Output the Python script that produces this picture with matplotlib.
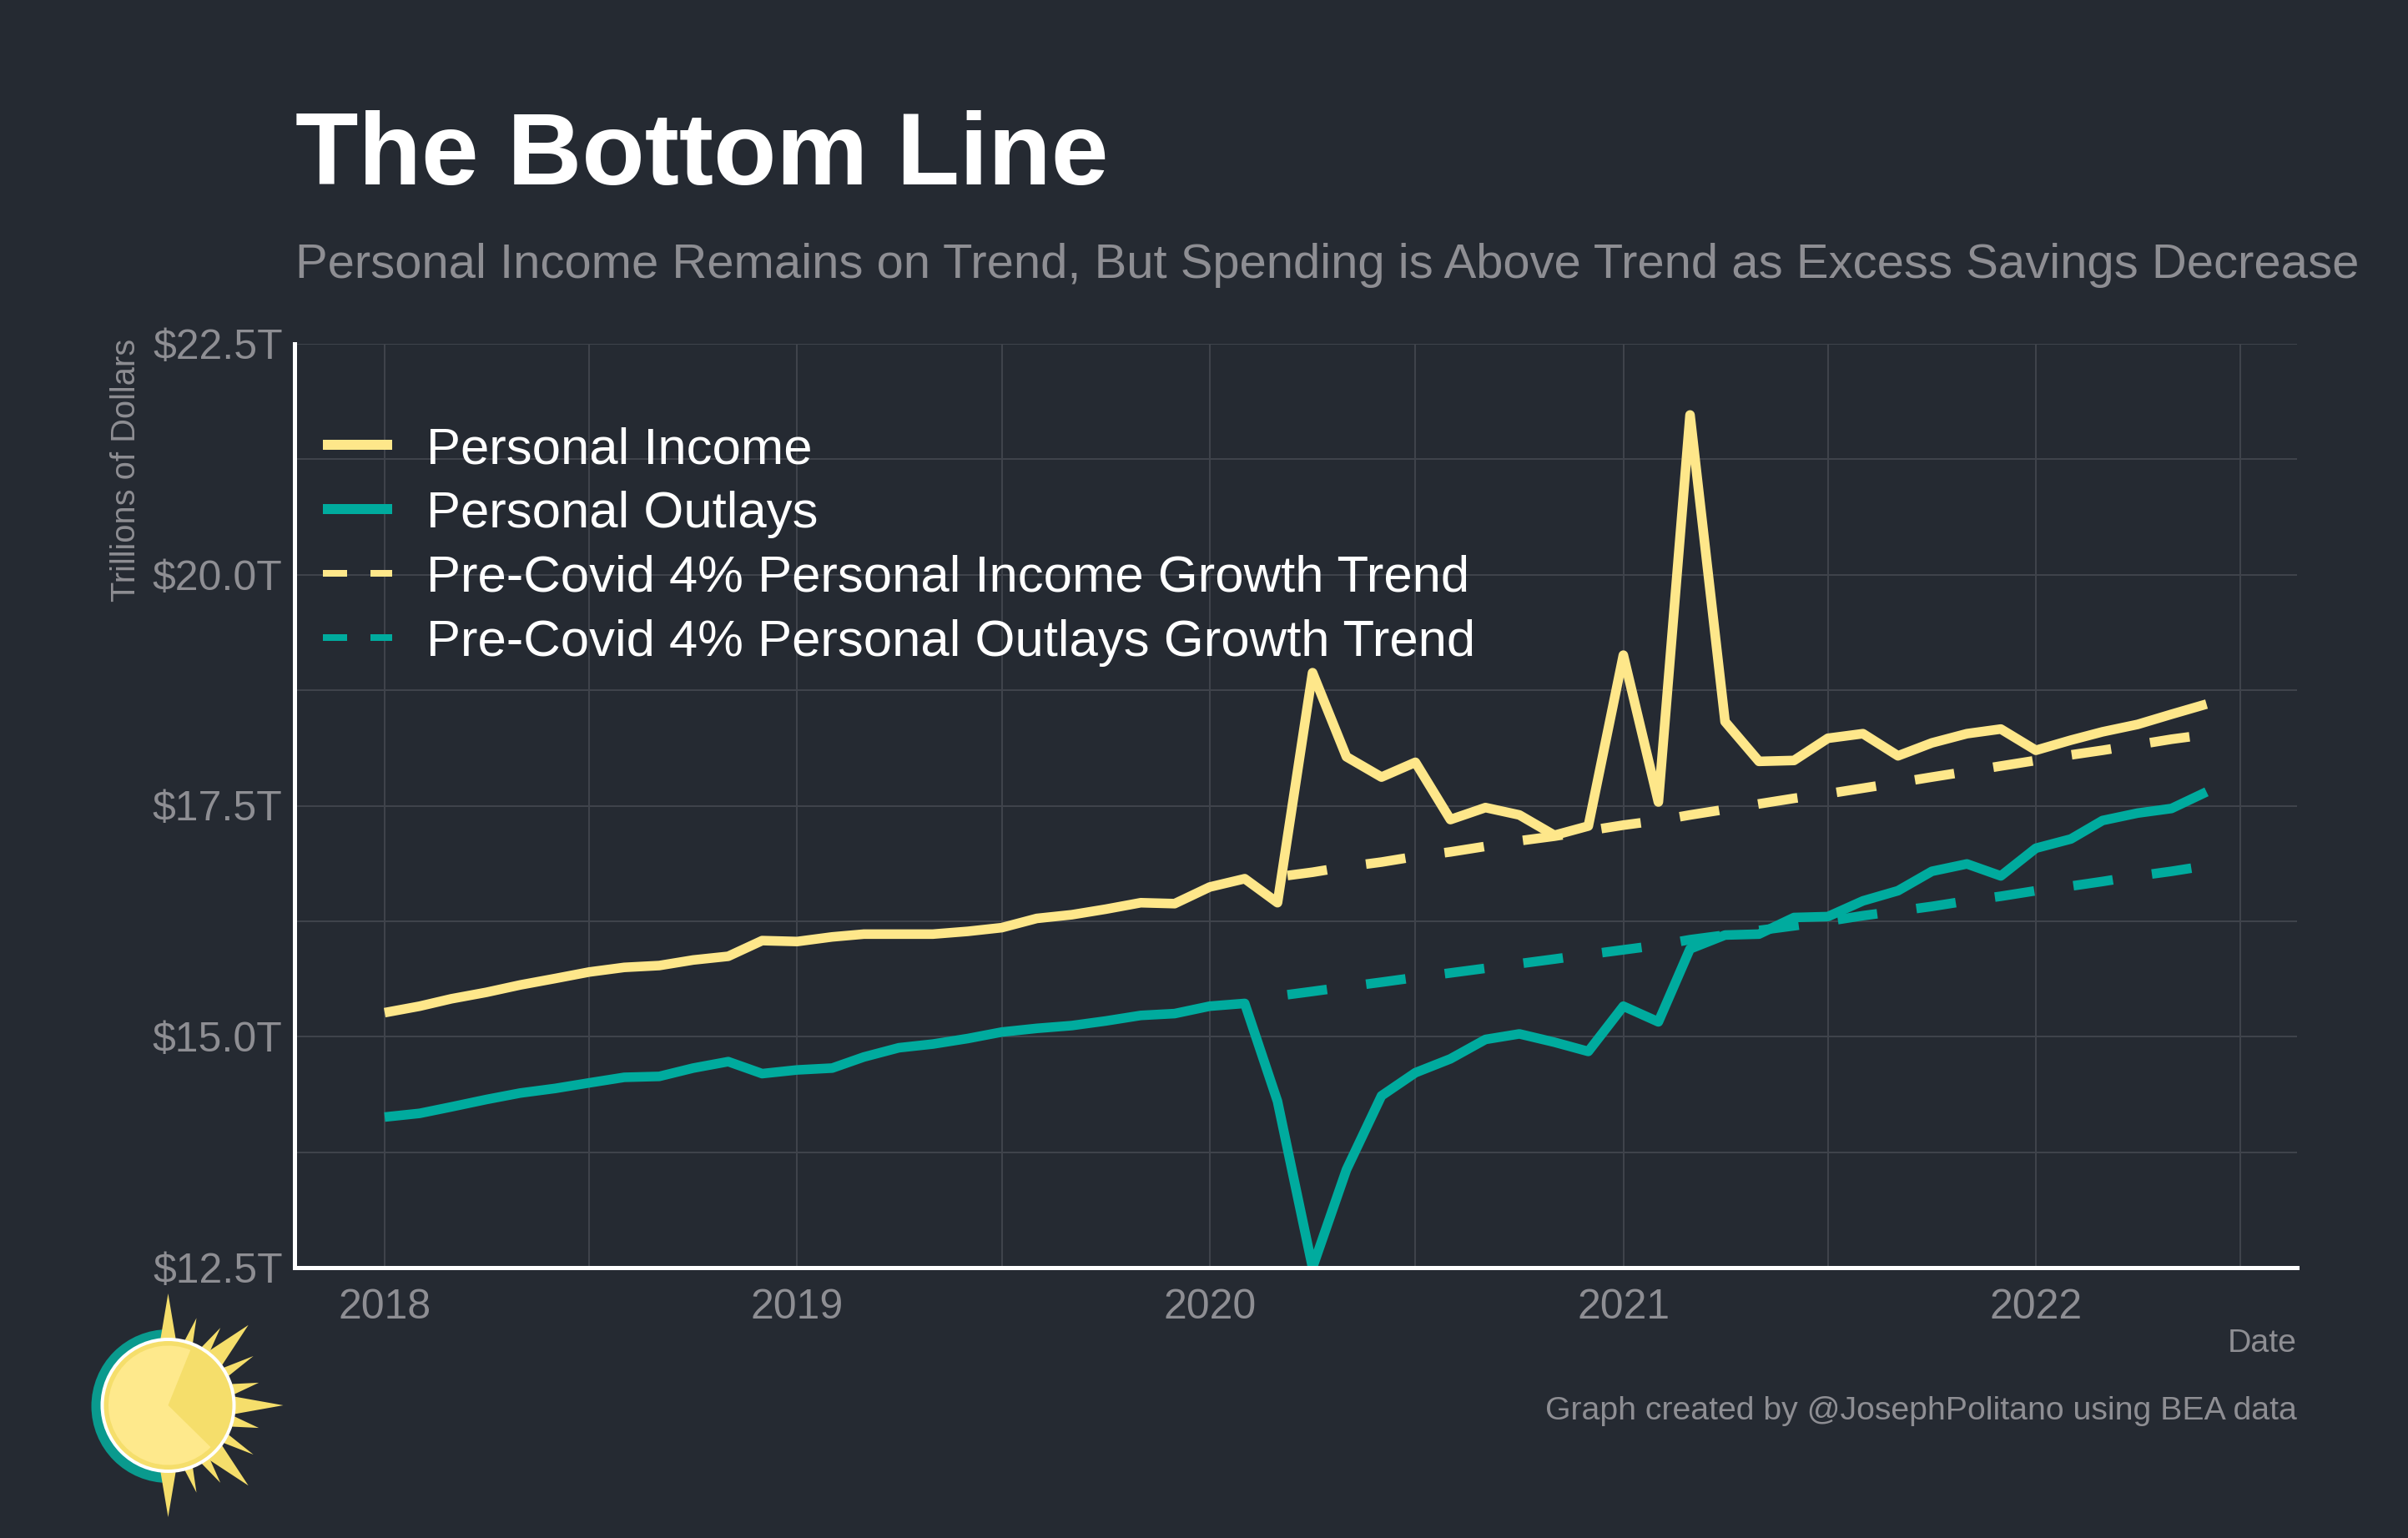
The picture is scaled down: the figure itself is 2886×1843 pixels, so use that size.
import numpy as np
import pandas as pd
import matplotlib
matplotlib.use("Agg")
import matplotlib.pyplot as plt
import matplotlib.dates as mdates
from matplotlib.lines import Line2D
from matplotlib.patches import Circle, Wedge, Polygon

plt.rcParams['font.family'] = ['Liberation Sans', 'DejaVu Sans']
plt.rcParams['lines.scale_dashes'] = False

W, H, DPI = 2886, 1843, 100
PT = 72 / DPI

BG = '#252A32'
YELLOW = '#FEE78A'
TEAL = '#00AB9E'
GRID = '#3F434B'
GREY = '#8E8E93'

income = [15.26, 15.33, 15.41, 15.48, 15.56, 15.63, 15.70, 15.75, 15.77, 15.83, 15.87, 16.04,
          16.03, 16.08, 16.11, 16.11, 16.11, 16.14, 16.18, 16.28, 16.32, 16.38, 16.45, 16.44,
          16.62, 16.71, 16.45, 18.94, 18.03, 17.81, 17.97, 17.35, 17.48, 17.40, 17.18, 17.28,
          19.13, 17.54, 21.73, 18.41, 17.98, 17.99, 18.23, 18.28, 18.04, 18.18, 18.28, 18.33,
          18.10, 18.21, 18.30, 18.38, 18.49, 18.60]
outlays = [14.13, 14.17, 14.24, 14.32, 14.39, 14.44, 14.50, 14.56, 14.57, 14.66, 14.73, 14.60,
           14.64, 14.66, 14.78, 14.88, 14.92, 14.98, 15.05, 15.09, 15.12, 15.17, 15.23, 15.25,
           15.33, 15.36, 14.30, 12.50, 13.56, 14.36, 14.61, 14.76, 14.97, 15.03, 14.94, 14.84,
           15.33, 15.16, 15.95, 16.10, 16.11, 16.29, 16.30, 16.47, 16.58, 16.79, 16.87, 16.74,
           17.04, 17.14, 17.34, 17.42, 17.47, 17.65]
income_trend = [16.73, 16.78, 16.84, 16.89, 16.95, 17.00, 17.06, 17.12, 17.17, 17.23, 17.29, 17.34,
                17.40, 17.46, 17.52, 17.58, 17.63, 17.69, 17.75, 17.81, 17.87, 17.93, 17.99, 18.05,
                18.10, 18.16, 18.22, 18.27]
outlays_trend = [15.44, 15.49, 15.54, 15.59, 15.64, 15.69, 15.74, 15.79, 15.84, 15.89, 15.94, 15.99,
                 16.05, 16.10, 16.15, 16.20, 16.25, 16.31, 16.36, 16.41, 16.47, 16.52, 16.58, 16.63,
                 16.68, 16.74, 16.79, 16.85]
y_ticks = [12.5, 15.0, 17.5, 20.0, 22.5]
y_tick_labels = ['$12.5T', '$15.0T', '$17.5T', '$20.0T', '$22.5T']
legend_labels = ['Personal Income', 'Personal Outlays',
                 'Pre-Covid 4% Personal Income Growth Trend',
                 'Pre-Covid 4% Personal Outlays Growth Trend']

dates = pd.date_range('2018-01-01', periods=len(income), freq='MS')
trend_dates = pd.date_range('2020-03-01', periods=len(income_trend), freq='MS')

fig = plt.figure(figsize=(W / DPI, H / DPI), dpi=DPI, facecolor=BG)
L, R, T, B = 352.5, 2753, 412, 1519
ax = fig.add_axes([L / W, 1 - B / H, (R - L) / W, (B - T) / H], facecolor=BG)

px_per_day = (2440 - 461) / (mdates.date2num(pd.Timestamp('2022-01-01')) - mdates.date2num(pd.Timestamp('2018-01-01')))
d0 = mdates.date2num(pd.Timestamp('2018-01-01'))
ax.set_xlim(d0 - (461 - L) / px_per_day, d0 + (R - 461) / px_per_day)
ax.set_ylim(12.5, 22.5)

ax.xaxis.set_major_locator(mdates.YearLocator())
ax.xaxis.set_major_formatter(mdates.DateFormatter('%Y'))
ax.xaxis.set_minor_locator(mdates.MonthLocator(bymonth=[7]))
ax.set_yticks(y_ticks)
ax.set_yticklabels(y_tick_labels)
ax.set_yticks([13.75, 16.25, 18.75, 21.25], minor=True)
ax.grid(True, which='both', color=GRID, lw=2 * PT)
ax.set_axisbelow(True)
ax.tick_params(which='both', length=0)
ax.tick_params(axis='x', which='major', labelsize=36, labelcolor=GREY, pad=18)
ax.tick_params(axis='y', which='major', labelsize=36, labelcolor=GREY, pad=10)

for s in ['top', 'right']:
    ax.spines[s].set_visible(False)
for s in ['left', 'bottom']:
    ax.spines[s].set_color('white')
    ax.spines[s].set_linewidth(5 * PT)

lw = 11.5 * PT
dash = (59.8, (47.8 * PT, 47.3 * PT))
ax.plot(trend_dates, income_trend, color=YELLOW, lw=lw, linestyle=dash, dash_capstyle='butt')
ax.plot(trend_dates, outlays_trend, color=TEAL, lw=lw, linestyle=dash, dash_capstyle='butt')
ax.plot(dates, income, color=YELLOW, lw=lw, solid_capstyle='butt', solid_joinstyle='round')
ax.plot(dates, outlays, color=TEAL, lw=lw, solid_capstyle='butt', solid_joinstyle='round')

handles = [
    Line2D([], [], color=YELLOW, lw=12 * PT, solid_capstyle='butt'),
    Line2D([], [], color=TEAL, lw=12 * PT, solid_capstyle='butt'),
    Line2D([], [], color=YELLOW, lw=8 * PT, linestyle=(0, (29 * PT, 28 * PT)), dash_capstyle='butt'),
    Line2D([], [], color=TEAL, lw=8 * PT, linestyle=(0, (29 * PT, 28 * PT)), dash_capstyle='butt'),
]
leg = ax.legend(handles, legend_labels, loc='upper left',
                bbox_to_anchor=(387 / W, 1 - 511 / H), bbox_transform=fig.transFigure,
                frameon=False, fontsize=44.4, labelcolor='white', borderpad=0, borderaxespad=0,
                handlelength=83 / 61.7, handletextpad=0.66, labelspacing=0.322)

def ftext(x, y, s, **kw):
    return fig.text(x / W, 1 - y / H, s, **kw)

ftext(353.5, 221, 'The Bottom Line', color='white', fontsize=88.9, fontweight='bold', ha='left', va='baseline')
ftext(353.5, 333, 'Personal Income Remains on Trend, But Spending is Above Trend as Excess Savings Decrease',
      color=GREY, fontsize=41.75, ha='left', va='baseline')
ftext(132, 406, 'Trillions of Dollars', color=GREY, fontsize=28.7, rotation=90, ha='right', va='top', rotation_mode='anchor')
ftext(2753, 1620, 'Date', color=GREY, fontsize=28.3, ha='right', va='baseline')
ftext(2753, 1701, 'Graph created by @JosephPolitano using BEA data', color=GREY, fontsize=28.3, ha='right', va='baseline')

# logo, in zoom-crop pixel units
lg = fig.add_axes([100 / W, 1 - 1830 / H, 260 / W, 290 / H])
lg.set_xlim(100, 360)
lg.set_ylim(1830, 1540)
lg.axis('off')
lg.set_aspect('equal')
cx, cy = 201.5, 1684
SUN, SUN2 = '#F5DE6B', '#FEE98C'
lg.add_patch(Wedge((cx, cy + 1), 92, 90, 270, fc='#0A9A8E', ec='none'))
rays = [(90, 134, 7), (72, 110, 4), (56, 112, 4.5), (45, 136, 9), (30, 118, 4.5), (14, 112, 5),
        (0, 138, 8), (-14, 112, 5), (-30, 118, 4.5), (-45, 136, 9), (-56, 112, 4.5), (-72, 110, 4), (-90, 134, 7)]
for ang, rad, hw in rays:
    a = np.deg2rad(ang)
    tip = (cx + rad * np.cos(a), cy - rad * np.sin(a))
    b1 = np.deg2rad(ang - hw)
    b2 = np.deg2rad(ang + hw)
    lg.add_patch(Polygon([tip, (cx + 78 * np.cos(b1), cy - 78 * np.sin(b1)),
                          (cx + 78 * np.cos(b2), cy - 78 * np.sin(b2))], fc=SUN, ec='none'))
lg.add_patch(Circle((cx, cy), 81, fc='white', ec='none'))
lg.add_patch(Circle((cx, cy), 77, fc=SUN, ec='none'))
# y axis is inverted, so wedge angles are mirrored
lg.add_patch(Wedge((cx, cy), 71.5, 44.5, 292, fc=SUN2, ec='none'))

fig.savefig('out.png', dpi=DPI, facecolor=BG)
